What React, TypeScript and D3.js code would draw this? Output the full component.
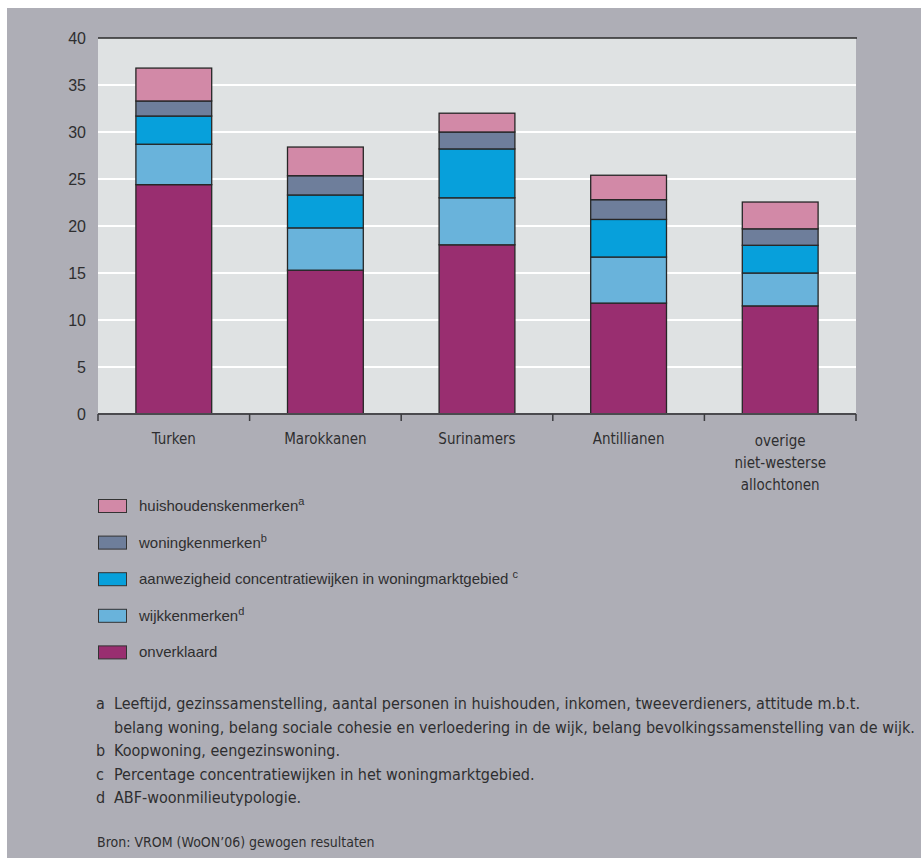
import React from "react";
import * as d3 from "d3";

const categories = ["Turken", "Marokkanen", "Surinamers", "Antillianen", "overige niet-westerse allochtonen"];
const categoryLines = [["Turken"], ["Marokkanen"], ["Surinamers"], ["Antillianen"], ["overige", "niet-westerse", "allochtonen"]];

const seriesKeys = ["onverklaard", "wijkkenmerken", "concentratiewijken", "woningkenmerken", "huishoudenskenmerken"];
const onverklaard = [24.4, 15.3, 18.0, 11.8, 11.5];
const wijkkenmerken = [4.3, 4.5, 5.0, 4.9, 3.5];
const concentratiewijken = [3.0, 3.5, 5.2, 4.0, 2.95];
const woningkenmerken = [1.6, 2.05, 1.8, 2.1, 1.75];
const huishoudenskenmerken = [3.5, 3.05, 2.0, 2.6, 2.85];
const seriesColors = ["#992e70", "#69b3db", "#07a0db", "#6e7e9b", "#d289a7"];

const yTicks = [0, 5, 10, 15, 20, 25, 30, 35, 40];

const legendItems = [
  { label: "huishoudenskenmerken", sup: "a", key: "huishoudenskenmerken", gap: false },
  { label: "woningkenmerken", sup: "b", key: "woningkenmerken", gap: false },
  { label: "aanwezigheid concentratiewijken in woningmarktgebied", sup: "c", key: "concentratiewijken", gap: true },
  { label: "wijkkenmerken", sup: "d", key: "wijkkenmerken", gap: false },
  { label: "onverklaard", sup: "", key: "onverklaard", gap: false },
];

const notes = [
  { letter: "a", lines: ["Leeftijd, gezinssamenstelling, aantal personen in huishouden, inkomen, tweeverdieners, attitude m.b.t.", "belang woning, belang sociale cohesie en verloedering in de wijk, belang bevolkingssamenstelling van de wijk."] },
  { letter: "b", lines: ["Koopwoning, eengezinswoning."] },
  { letter: "c", lines: ["Percentage concentratiewijken in het woningmarktgebied."] },
  { letter: "d", lines: ["ABF-woonmilieutypologie."] },
];
const source = "Bron: VROM (WoON\u201906) gewogen resultaten";

const W = 921, H = 859;
const plot = { left: 98, right: 856, top: 38, bottom: 414 };
const textColor = "#2e2e30";
const normalFont = "'Liberation Sans', Arial, sans-serif";
const narrowFont = "'Liberation Sans Narrow', 'DejaVu Sans Condensed', 'Liberation Sans', sans-serif";

export default function App() {
  const data = categories.map((c, i) => ({
    cat: c,
    onverklaard: onverklaard[i],
    wijkkenmerken: wijkkenmerken[i],
    concentratiewijken: concentratiewijken[i],
    woningkenmerken: woningkenmerken[i],
    huishoudenskenmerken: huishoudenskenmerken[i],
  }));
  const stacked = d3.stack().keys(seriesKeys)(data as any);
  const x = d3.scaleBand().domain(categories).range([plot.left, plot.right]).paddingInner(0.5).paddingOuter(0.25);
  const y = d3.scaleLinear().domain([0, 40]).range([plot.bottom, plot.top]);
  const color = d3.scaleOrdinal<string, string>().domain(seriesKeys).range(seriesColors);
  const step = (plot.right - plot.left) / categories.length;
  const boundaries = d3.range(categories.length + 1).map((i) => plot.left + i * step);

  return (
    <svg width={W} height={H} style={{ position: "absolute", left: 0, top: 0, display: "block" }}>
      <rect x={0} y={0} width={W} height={H} fill="#ffffff" />
      <rect x={7} y={8} width={W - 7} height={850} fill="#aeaeb6" />
      <rect x={plot.left} y={plot.top} width={plot.right - plot.left} height={plot.bottom - plot.top} fill="#dfe2e3" />
      {yTicks.filter((t) => t > 0 && t < 40).map((t) => (
        <line key={t} x1={plot.left} x2={plot.right} y1={y(t)} y2={y(t)} stroke="#ffffff" strokeWidth={2} />
      ))}
      <line x1={plot.left} x2={plot.right + 1} y1={y(40)} y2={y(40)} stroke="#2a2a2a" strokeWidth={1.5} />
      {yTicks.map((t) => (
        <text key={t} x={86} y={y(t)} dy="0.36em" textAnchor="end" fontFamily={normalFont} fontSize={16} fill={textColor}>{t}</text>
      ))}
      {stacked.map((s) => (
        <g key={s.key} fill={color(s.key)}>
          {s.map((d, i) => (
            <rect key={i} x={x(categories[i])} y={y(d[1])} width={x.bandwidth()} height={y(d[0]) - y(d[1])} stroke="#262626" strokeWidth={1.3} />
          ))}
        </g>
      ))}
      <line x1={plot.left} x2={plot.right} y1={plot.bottom} y2={plot.bottom} stroke="#4a4a4e" strokeWidth={2} />
      {boundaries.map((bx, i) => (
        <line key={i} x1={bx} x2={bx} y1={plot.bottom} y2={plot.bottom + 7} stroke="#3a3a3e" strokeWidth={1.5} />
      ))}
      {categoryLines.map((lines, i) => (
        <text key={i} textAnchor="middle" fontFamily={narrowFont} fontSize={15} fill={textColor}>
          {lines.map((l, li) => (
            <tspan key={li} x={(x(categories[i]) as number) + x.bandwidth() / 2} y={444 + (lines.length > 1 ? 2 : 0) + li * 22}>{l}</tspan>
          ))}
        </text>
      ))}
      {legendItems.map((it, i) => {
        const cy = 506 + i * 36.6;
        return (
          <g key={it.key}>
            <rect x={98.5} y={cy - 6.5} width={28} height={13} fill={color(it.key)} stroke="#333" strokeWidth={1} />
            <text x={139} y={cy + 5} fontFamily={normalFont} fontSize={15} fill={textColor}>
              {it.label}
              {it.sup ? <tspan dx={it.gap ? 4 : 0} dy={-6} fontSize={11}>{it.sup}</tspan> : null}
            </text>
          </g>
        );
      })}
      {(() => {
        const out: any[] = [];
        let yy = 709;
        notes.forEach((n) => {
          out.push(<text key={"l" + n.letter} x={96} y={yy} fontFamily={narrowFont} fontSize={16} fill={textColor}>{n.letter}</text>);
          n.lines.forEach((l, li) => {
            out.push(<text key={n.letter + li} x={114} y={yy} fontFamily={narrowFont} fontSize={16} fill={textColor}>{l}</text>);
            yy += 23.6;
          });
        });
        return out;
      })()}
      <text x={97} y={847} fontFamily={narrowFont} fontSize={14} fill={textColor}>{source}</text>
    </svg>
  );
}
